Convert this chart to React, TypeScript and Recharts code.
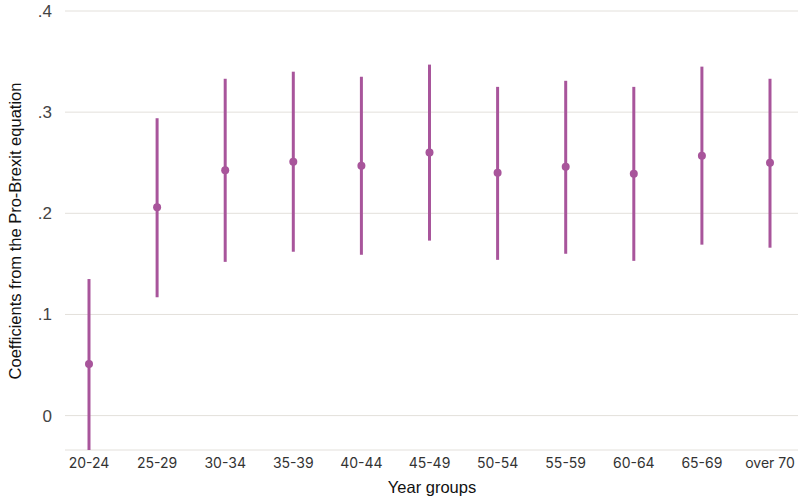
import React from "react";
import { ComposedChart, Line, XAxis, YAxis, CartesianGrid, ErrorBar, Label } from "recharts";

const categories = ["20-24", "25-29", "30-34", "35-39", "40-44", "45-49", "50-54", "55-59", "60-64", "65-69", "over 70"];
const estimates = [0.051, 0.206, 0.2425, 0.251, 0.247, 0.26, 0.24, 0.246, 0.239, 0.257, 0.25];
const lower = [-0.034, 0.117, 0.152, 0.162, 0.159, 0.173, 0.154, 0.16, 0.153, 0.169, 0.166];
const upper = [0.135, 0.294, 0.333, 0.34, 0.335, 0.347, 0.325, 0.331, 0.325, 0.345, 0.333];
const yTicks = [0, 0.1, 0.2, 0.3, 0.4];
const yTickLabels = ["0", ".1", ".2", ".3", ".4"];

const data = categories.map((c, i) => ({
  cat: c,
  est: estimates[i],
  err: [estimates[i] - lower[i], upper[i] - estimates[i]],
}));

const COLOR = "#a8559b";
const FONT = "Inter, 'Noto Sans', sans-serif";
const SANS = "'Liberation Sans', Arial, sans-serif";

export default function App() {
  return (
    <div style={{ position: "absolute", left: 0, top: 0, background: "#fff" }}>
      <ComposedChart
        width={798}
        height={498}
        data={data}
        margin={{ top: 11, right: 0, bottom: 0, left: 0 }}
      >
        <CartesianGrid vertical={false} stroke="#e3e0db" strokeWidth={1} />
        <XAxis
          dataKey="cat"
          type="category"
          scale="point"
          padding={{ left: 24, right: 28 }}
          axisLine={false}
          tickLine={false}
          tickSize={0}
          tickMargin={8}
          height={48}
          interval={0}
          tick={{ fontSize: 14, fill: "#333", fontFamily: FONT }}
        >
          <Label
            content={() => (
              <text x={432} y={493} textAnchor="middle" fontSize={16.5} fill="#111" fontFamily={SANS}>
                Year groups
              </text>
            )}
          />
        </XAxis>
        <YAxis
          type="number"
          domain={[-0.034, 0.4]}
          ticks={yTicks}
          tickFormatter={(v: number) => yTickLabels[yTicks.indexOf(v)] ?? String(v)}
          axisLine={false}
          tickLine={false}
          tickSize={0}
          tickMargin={13}
          width={65}
          allowDataOverflow
          tick={{ fontSize: 17, fill: "#444", fontFamily: SANS }}
        >
          <Label
            content={() => (
              <text
                x={15}
                y={231}
                textAnchor="middle"
                fontSize={16.5}
                fill="#111"
                fontFamily={SANS}
                transform="rotate(-90, 15, 231)"
                dominantBaseline="central"
              >
                Coefficients from the Pro-Brexit equation
              </text>
            )}
          />
        </YAxis>
        <Line
          dataKey="est"
          stroke="none"
          isAnimationActive={false}
          dot={{ r: 4, fill: COLOR, stroke: "none" }}
          activeDot={false}
        >
          <ErrorBar dataKey="err" width={0} stroke={COLOR} strokeWidth={3} direction="y" />
        </Line>
      </ComposedChart>
    </div>
  );
}
